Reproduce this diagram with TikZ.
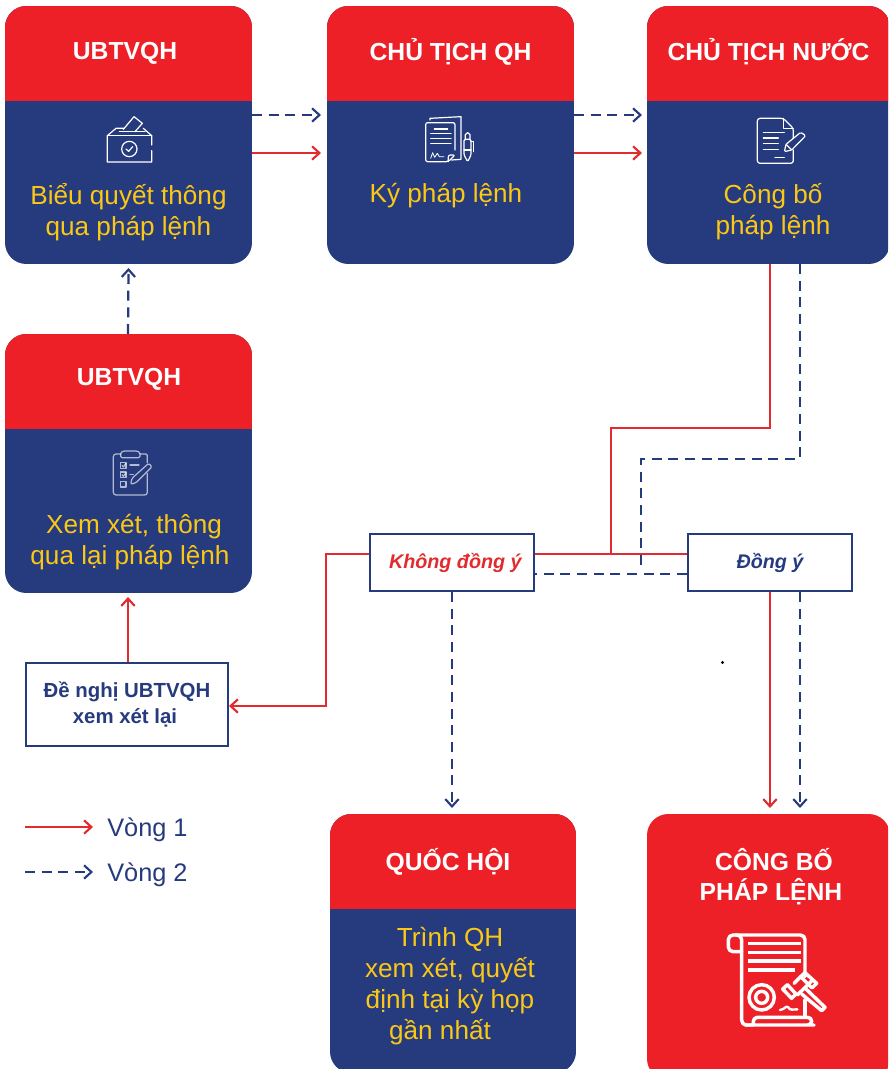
\documentclass[tikz,border=0pt]{standalone}
\usepackage{fontspec}
\setmainfont{Liberation Sans}
\usetikzlibrary{arrows.meta,fit,calc}
\definecolor{cred}{HTML}{EE2027}
\definecolor{cblue}{HTML}{263A7E}
\definecolor{cyel}{HTML}{FBC815}
\definecolor{lred}{HTML}{E22B2E}
\tikzset{
  title/.style={text=white,font=\fontsize{18.5}{22.5}\selectfont\bfseries,align=center,inner sep=0},
  body/.style={text=cyel,font=\fontsize{19.6}{23.3}\selectfont,align=center,inner sep=0},
  legend/.style={text=cblue,font=\fontsize{19}{23}\selectfont,anchor=west,inner sep=0},
  wbox/.style={draw=cblue,fill=white,line width=1.5pt,inner sep=0},
  redln/.style={draw=lred,line width=1.6pt},
  bluln/.style={draw=cblue,line width=1.7pt,dash pattern=on 7.5pt off 5pt},
  tip/.style={-{Straight Barb[length=5.5pt,width=10pt,line width=1.6pt]}},
  icon/.style={draw=white,line width=.9pt,line cap=round,line join=round,fill=none},
  iconb/.style={draw=white,line width=2.6pt,line cap=round,line join=round,fill=none},
}
\newcommand{\card}[8]{%
  \begin{scope}
    \clip[rounded corners=16pt] (#2,#3) rectangle (#4,#5);
    \fill[#8] (#2,#3) rectangle (#4,#5);
    \fill[cred] (#2,#3) rectangle (#4,#6);
  \end{scope}
  \node[inner sep=0,outer sep=0,fit={(#2,#3)(#4,#5)}] (#1) {};
}
\begin{document}
\begin{tikzpicture}[x=.75pt,y=-.75pt]
\path[clip] (0,0) rectangle (888,1069);
\fill[white] (0,0) rectangle (888,1069);

% cards
\card{a}{5}{6}{252}{264}{101}{}{cblue}
\card{b}{327}{6}{574}{264}{101}{}{cblue}
\card{c}{647}{6}{890}{264}{101}{}{cblue}
\card{d}{5}{334}{252}{593}{429}{}{cblue}
\card{e}{330}{814}{576}{1073}{909}{}{cblue}
\card{f}{647}{814}{890}{1080}{814}{}{cred}
\node[title] (at0) at (125,53) {UBTVQH};
\node[title] (bt0) at (450.5,52) {CHỦ TỊCH QH};
\node[title] (ct0) at (768.5,52) {CHỦ TỊCH NƯỚC};
\node[title] (dt0) at (129,379) {UBTVQH};
\node[title] (et0) at (448,862) {QUỐC HỘI};
\node[title] (ft) at (771,877) {\hspace*{4.5pt}CÔNG BỐ\\PHÁP LỆNH};

\node[body] (at) at (128.5,212) {Biểu quyết thông\\qua pháp lệnh};
\node[body] (bt) at (446,196) {Ký pháp lệnh};
\node[body] (ct) at (773,212) {Công bố\\pháp lệnh};
\node[body] (dt) at (130,542) {\hspace*{6pt}Xem xét, thông\\qua lại pháp lệnh};
\node[body] (et) at (450,986) {Trình QH\\xem xét, quyết\\định tại kỳ họp\\gần nhất\hspace*{15pt}};

% white boxes
\node[wbox,minimum width=123pt,minimum height=42.75pt,font=\fontsize{14.8}{18}\selectfont\bfseries\itshape,text=lred] (no) at (452,562.5) {\raisebox{-1.5pt}{\hspace*{5pt}Không đồng ý}};
\node[wbox,minimum width=123pt,minimum height=42.75pt,font=\fontsize{14.8}{18}\selectfont\bfseries\itshape,text=cblue] (yes) at (770,562.5) {\raisebox{-1.5pt}{Đồng ý}};
\node[wbox,minimum width=151.5pt,minimum height=62.25pt,font=\fontsize{15.3}{19.5}\selectfont\bfseries,text=cblue,align=center] (req) at (127,704.5) {Đề nghị UBTVQH\\xem xét lại\hspace*{3pt}};

% connectors
\draw[bluln,tip] (a.east |- 0,115) -- ($(b.west |- 0,115)+(-6,0)$);
\draw[redln,tip] (a.east |- 0,153) -- ($(b.west |- 0,153)+(-6,0)$);
\draw[bluln,tip] (b.east |- 0,115) -- ($(c.west |- 0,115)+(-5,0)$);
\draw[redln,tip] (b.east |- 0,153) -- ($(c.west |- 0,153)+(-5,0)$);
\draw[bluln,tip] (128,334) -- ($(a.south |- 0,264)+(0,4)$);
\draw[redln] (c.south -| 770,0) -- (770,428) -- (611,428) -- (611,554);
\draw[bluln] (c.south -| 800,0) -- (800,459) -- (641,459) -- (641,570);
\draw[redln] (no.east |- 0,554) -- (yes.west |- 0,554);
\draw[bluln] (yes.west |- 0,574) -- (no.east |- 0,574);
\draw[redln,tip] (no.west |- 0,554) -- (326,554) -- (326,706) -- (req.east |- 0,706);
\draw[redln,tip] (req.north -| 128,0) -- ($(d.south -| 128,0)+(0,4)$);
\draw[bluln,tip] (no.south -| 452,0) -- ($(e.north -| 452,0)+(0,-6)$);
\draw[redln,tip] (yes.south -| 770,0) -- ($(f.north -| 770,0)+(0,-6)$);
\draw[bluln,tip] (yes.south -| 800,0) -- ($(f.north -| 800,0)+(0,-6)$);

% legend
\coordinate (l1a) at (25,827); \coordinate (l1b) at (93,827);
\coordinate (l2a) at (25,872); \coordinate (l2b) at (93,872);
\draw[redln,tip] (l1a) -- (l1b);
\draw[bluln,tip] (l2a) -- (l2b);
\node[legend] (l1) at (107,829.5) {Vòng 1};
\node[legend] (l2) at (107,874.5) {Vòng 2};

% stray dot
\fill[black] (722.5,662.5) circle (1.2pt);

% ballot icon
\begin{scope}[shift={(90,100)},x=.25pt,y=-.25pt]
  \draw[icon] (185,135) -- (185,107) -- (160,85) (102,85) -- (78,85) -- (52,107) -- (52,186) -- (185,186) -- (185,152);
  \draw[icon] (52,107) -- (185,107);
  \draw[icon] (88,95) -- (165,95);
  \draw[icon] (100,88) -- (132,50) -- (157,70) -- (135,95);
  \draw[icon] (118,147) circle (23);
  \draw[icon] (108,147) -- (116,154) -- (128,140);
\end{scope}
% documents + pen icon
\begin{scope}[shift={(90,100)},x=.25pt,y=-.25pt]
  \draw[icon] (1020,60) -- (1020,55) -- (1113,50) -- (1113,178) -- (1085,180);
  \draw[icon,rounded corners=1.5pt] (1095,150) -- (1095,68) -- (1007,68) -- (1007,185) -- (1075,185) -- (1095,165) -- (1075,165) -- (1075,185);
  \draw[icon] (1033,87) -- (1073,87) (1022,100) -- (1083,100) (1022,115) -- (1083,115) (1022,130) -- (1083,130);
  \draw[icon,line width=.6pt] (1022,175) -- (1028,158) -- (1034,172) -- (1042,160) -- (1048,170) -- (1062,170);
  \draw[icon,rounded corners=1pt] (1122,118) -- (1122,165) -- (1133,185) -- (1143,165) -- (1143,118) -- cycle;
  \draw[icon] (1126,118) -- (1126,104) -- (1133,98) -- (1140,104) -- (1140,118);
  \draw[icon] (1143,125) -- (1150,125) -- (1150,155);
  \draw[icon] (1122,150) -- (1143,150);
\end{scope}
% document + pen icon
\begin{scope}[shift={(730,100)},x=.25pt,y=-.25pt]
  \draw[icon,rounded corners=2pt] (190,115) -- (190,85) -- (160,55) -- (82,55) -- (82,190) -- (190,190) -- (190,150);
  \draw[icon] (160,55) -- (160,85) -- (190,85);
  \draw[icon] (100,97) -- (163,97) (100,114) -- (145,114) (100,130) -- (145,130) (100,148) -- (145,148) (135,173) -- (163,173);
  \draw[icon,rounded corners=1pt] (163,155) -- (168,133) -- (212,97) -- (227,107) -- (185,150) -- cycle;
  \draw[icon] (168,133) -- (185,150);
\end{scope}
% clipboard icon
\begin{scope}[shift={(90,440)},x=.25pt,y=-.25pt]
  \begin{scope}[opacity=.65]
  \draw[icon,rounded corners=2pt] (92,42) -- (70,42) -- (70,165) -- (172,165) -- (172,100);
  \draw[icon,rounded corners=1pt] (150,42) -- (172,42) -- (172,68);
  \draw[icon,rounded corners=1pt] (92,53) -- (92,38) -- (100,33) -- (142,33) -- (150,38) -- (150,53) -- cycle;
  \draw[icon] (92,68) rectangle (108,85) (92,96) rectangle (108,113) (92,124) rectangle (108,141);
  \draw[icon] (96,76) -- (100,81) -- (108,70) (96,104) -- (100,109) -- (108,98);
  \draw[icon] (120,75) -- (147,75) (120,104) -- (130,104);
  \draw[icon,rounded corners=1pt] (122,133) -- (126,115) -- (176,70) -- (186,80) -- (138,128) -- cycle;
  \end{scope}
\end{scope}
% scroll + gavel icon
\begin{scope}[shift={(710,920)},x=.25pt,y=-.25pt]
  \draw[iconb,rounded corners=3.5pt] (285,170) -- (285,45) -- (55,45) -- (55,95) -- (95,95);
  \draw[iconb,rounded corners=3.5pt] (75,45) -- (95,45) -- (95,315) -- (130,315);
  \draw[iconb,rounded corners=3pt] (105,315) -- (300,315) -- (305,315) -- (305,292) -- (130,292) -- (130,315);
  \draw[iconb] (285,240) -- (285,292);
  \draw[iconb,line cap=butt] (115,70) -- (272,70) (115,97) -- (272,97) (115,123) -- (272,123) (115,150) -- (255,150);
  \draw[iconb] (155,232) circle (38);
  \draw[iconb] (155,232) circle (18);
  \draw[iconb] (218,207) -- (245,235) -- (258,222) -- (232,194) -- cycle;
  \draw[iconb] (285,158) -- (320,190) -- (306,204) -- (272,170) -- cycle;
  \draw[iconb] (252,190) -- (272,170) (262,225) -- (304,184);
  \draw[iconb] (288,207) -- (345,262) -- (335,272) -- (275,222);
  \draw[iconb,line width=1.8pt] (210,270) .. controls (225,268) and (228,255) .. (235,262) .. controls (240,272) and (250,268) .. (262,268);
\end{scope}
\end{tikzpicture}
\end{document}
